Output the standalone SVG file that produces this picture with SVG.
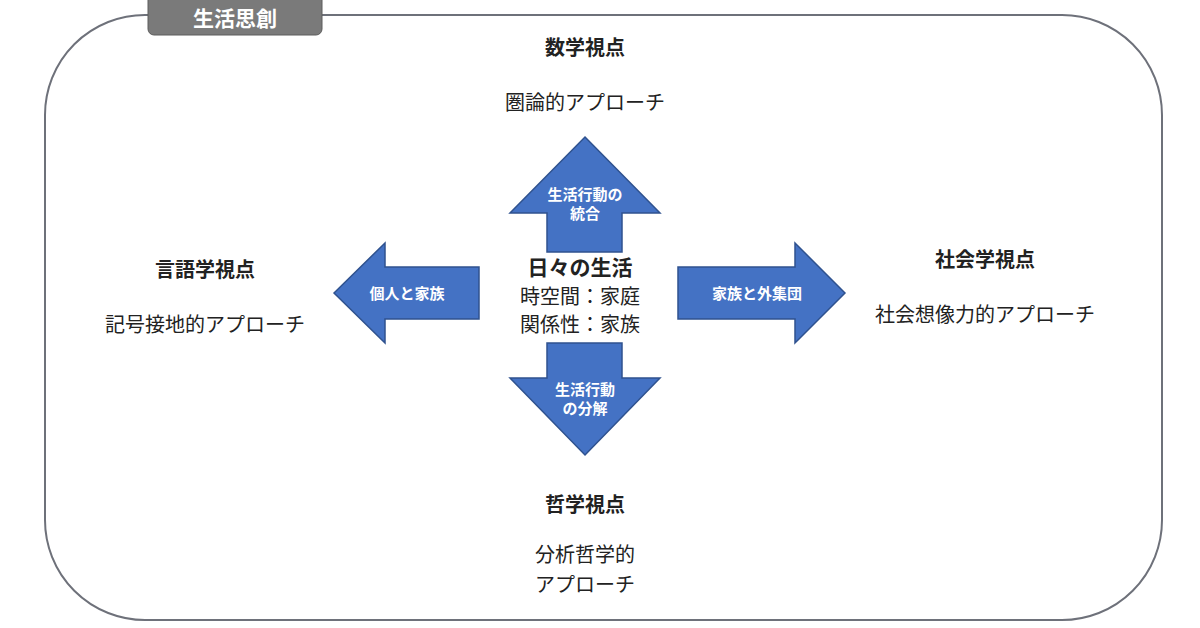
<svg xmlns="http://www.w3.org/2000/svg" width="1200" height="628" viewBox="0 0 1200 628">
<style>
text{font-family:"Noto Sans CJK JP","Noto Sans",sans-serif;text-anchor:middle;fill:#222}
.h{font-size:20px;font-weight:bold}
.t{font-size:20px}
.c{font-size:20px}
.a{fill:#4472c4;stroke:#2f528f;stroke-width:1.5}
.w{fill:#fff;font-size:15px;font-weight:bold}
</style>
<rect width="1200" height="628" fill="#fff"/>
<g id="frame">
<rect x="45" y="15" width="1117" height="605" rx="100" fill="none" stroke="#6e717a" stroke-width="2"/>
<rect x="148" y="-8" width="174" height="43" rx="6" fill="#7a7a7a" stroke="#5c5c5c"/>
<text x="235" y="26" style="fill:#fff;font-size:21px;font-weight:bold">生活思創</text>
</g>
<g id="connectors">
<polygon class="a" points="585,137 660,213 622,213 622,252 547,252 547,213 510,213"/>
<polygon class="a" points="334,293 385,243 385,267 479,267 479,319 385,319 385,343"/>
<polygon class="a" points="845,293 795,243 795,267 678,267 678,319 795,319 795,343"/>
<polygon class="a" points="585,455 660,378 622,378 622,343 547,343 547,378 510,378"/>
<text class="w" x="585" y="200">生活行動の</text>
<text class="w" x="585" y="219">統合</text>
<text class="w" x="407" y="299">個人と家族</text>
<text class="w" x="757" y="299">家族と外集団</text>
<text class="w" x="585" y="395">生活行動</text>
<text class="w" x="585" y="414">の分解</text>
</g>
<g id="center">
<text class="c" x="580" y="275" style="font-weight:bold;font-size:21px">日々の生活</text>
<text class="c" x="580" y="304">時空間：家庭</text>
<text class="c" x="580" y="332">関係性：家族</text>
</g>
<g id="math"><text class="h" x="585" y="55">数学視点</text><text class="t" x="585" y="110">圏論的アプローチ</text></g>
<g id="ling"><text class="h" x="205" y="277">言語学視点</text><text class="t" x="205" y="332">記号接地的アプローチ</text></g>
<g id="soc"><text class="h" x="985" y="267">社会学視点</text><text class="t" x="985" y="322">社会想像力的アプローチ</text></g>
<g id="phil"><text class="h" x="585" y="512">哲学視点</text><text class="t" x="585" y="562">分析哲学的</text><text class="t" x="585" y="592">アプローチ</text></g>
</svg>
